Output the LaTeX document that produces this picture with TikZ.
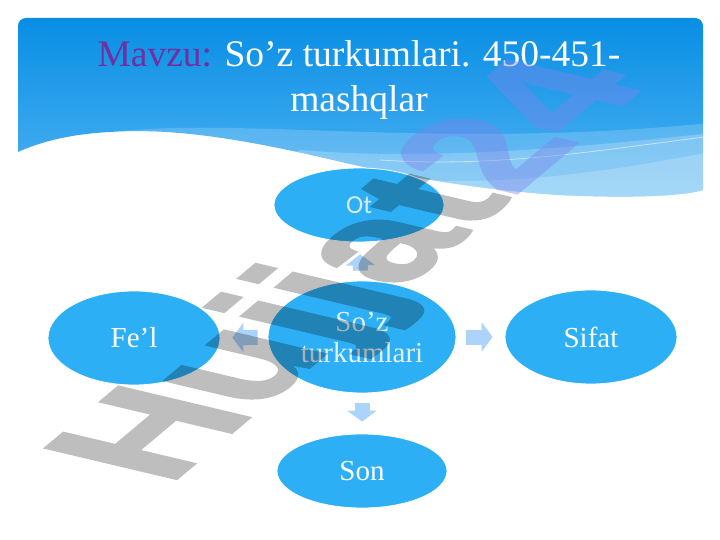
\documentclass[tikz,border=0pt]{standalone}
\usepackage{fontspec}
\setmainfont{Liberation Serif}
\newfontfamily\wmfont{Liberation Sans Bold}[FakeBold=1.8]
\newfontfamily\otfont{Carlito}
\usetikzlibrary{shapes.geometric,arrows.meta}
\definecolor{ellblue}{RGB}{45,175,245}
\definecolor{arrblue}{RGB}{172,212,250}
\definecolor{bantop}{RGB}{8,142,228}
\definecolor{banbot}{RGB}{105,192,248}
\definecolor{mavzu}{RGB}{112,48,160}
\definecolor{wmgray}{RGB}{190,190,190}
\definecolor{wmblue}{RGB}{125,132,235}
\definecolor{ottext}{RGB}{215,235,250}
\definecolor{ctext}{RGB}{228,240,252}
\tikzset{
  ell/.style={ellipse, fill=ellblue, draw=white, line width=0.8pt, inner sep=0pt,
    text=white, align=center, font=\fontsize{29}{31}\selectfont},
  conn/.style={draw=arrblue, line width=15pt, shorten <=10pt, shorten >=12pt,
    -{Triangle[length=11pt,width=29pt]}},
  titletext/.style={text=white, inner sep=0pt, font=\fontsize{37.5}{45}\selectfont},
  wm/.style={inner sep=0pt, transform shape, font=\wmfont\fontsize{100}{100}\selectfont}
}
\begin{document}
\begin{tikzpicture}[x=1pt,y=-1pt]
\useasboundingbox (0,0) rectangle (720,540);
\fill[white] (0,0) rectangle (720,540);
% banner
\begin{scope}
\clip (0,0) -- (720,0) -- (720,190) -- (703,190)
  .. controls (680,197) and (620,198) .. (560,195)
  .. controls (480,190) and (400,176) .. (333,160)
  .. controls (260,143) and (180,127) .. (110,132)
  .. controls (70,134) and (40,142) .. (18,152) -- (0,152) -- cycle;
\shade[top color=bantop, bottom color=banbot, rounded corners=8pt] (18,18) rectangle (703,260);
\fill[white, opacity=0.18] (120,131) .. controls (260,118) and (450,150) .. (720,122) -- (720,260) -- (0,260) -- cycle;
\fill[white, opacity=0.22] (300,150) .. controls (420,160) and (560,150) .. (720,132) -- (720,260) -- (0,260) -- cycle;
\draw[white, opacity=0.55, line width=0.8pt] (380,160) .. controls (500,168) and (600,150) .. (720,135);
\fill[white, opacity=0.2] (420,180) .. controls (520,185) and (620,170) .. (720,150) -- (720,260) -- (0,260) -- cycle;
\end{scope}
% title
\node[titletext, anchor=base] (t1) at (359,67) {\textcolor{mavzu}{Mavzu:} So’z turkumlari. 450-451-};
\node[titletext, anchor=base] (t2) at (359,112) {mashqlar};
% ellipses
\node[ell, minimum width=170pt, minimum height=74pt, text=ottext, font=\otfont\fontsize{26}{28}\selectfont] (ot) at (359,205) {Ot};
\node[ell, minimum width=172pt, minimum height=94pt] (fel) at (134,338) {Fe’l};
\node[ell, minimum width=188pt, minimum height=112pt, text=ctext] (c) at (362,337) {So’z\\turkumlari};
\node[ell, minimum width=172pt, minimum height=94pt] (sifat) at (591,337) {Sifat};
\node[ell, minimum width=170pt, minimum height=74pt] (son) at (362,471) {Son};
% arrows
\draw[conn] (c) -- (ot);
\draw[conn] (c) -- (fel);
\draw[conn] (c) -- (sifat);
\draw[conn] (c) -- (son);
% watermark
\begin{scope}[blend mode=multiply]
\begin{scope}[transparency group]
\begin{scope}[shift={(168,486)}, cm={1.24,1.04,-1.90,0.45,(0,0)}]
\node[wm, anchor=base west, text=wmgray] (w1) at (0,0) {Hujjat};
\end{scope}
\end{scope}
\end{scope}
\begin{scope}[transparency group, opacity=0.42]
\begin{scope}[shift={(168,486)}, cm={1.24,1.04,-1.90,0.45,(0,0)}]
\node[wm, anchor=base west, text=wmblue] (w2) at (277.8,0) {24};
\end{scope}
\end{scope}
\end{tikzpicture}
\end{document}
